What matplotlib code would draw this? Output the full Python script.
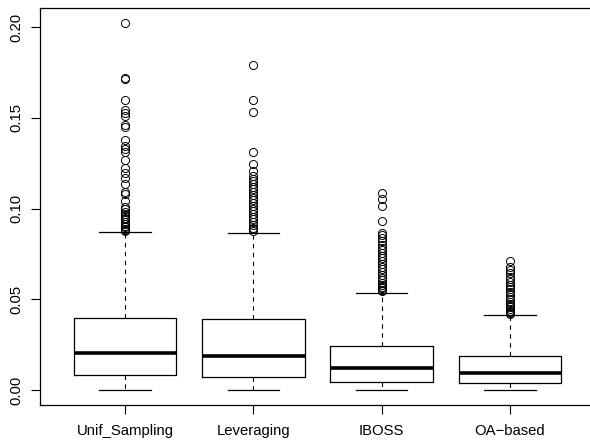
import matplotlib
matplotlib.use('Agg')
import matplotlib.pyplot as plt

# Methods on the x axis
methods = ['Unif_Sampling', 'Leveraging', 'IBOSS', 'OA\u2212based']

# Five-number summaries
whisker_low = [0.0, 0.0, 0.0, 0.0]
q1 = [0.0081, 0.0072, 0.0046, 0.0037]
medians = [0.0202, 0.0186, 0.0123, 0.0092]
q3 = [0.0395, 0.0390, 0.0245, 0.0188]
whisker_high = [0.0873, 0.0864, 0.0537, 0.0412]

# Outliers above the upper whisker
unif_out = [0.2024, 0.172, 0.1712, 0.160, 0.1545, 0.1527, 0.151, 0.146, 0.1447,
            0.138, 0.1345, 0.1328, 0.131, 0.1265, 0.1225, 0.1197, 0.117, 0.1138,
            0.1092, 0.108, 0.1044, 0.1007, 0.0995, 0.098, 0.097, 0.0958, 0.0947,
            0.094, 0.0925, 0.0915, 0.0905, 0.0897, 0.089, 0.0884, 0.0878]
lev_out = [0.1792, 0.160, 0.1533, 0.131, 0.1245, 0.1205, 0.118, 0.1165, 0.115,
           0.1135, 0.112, 0.1105, 0.109, 0.1075, 0.106, 0.1045, 0.103, 0.1015,
           0.100, 0.0985, 0.097, 0.0955, 0.094, 0.0925, 0.091, 0.0895, 0.0885, 0.0875]
iboss_out = [0.1088, 0.1051, 0.1014, 0.0932, 0.0867, 0.0855, 0.0838, 0.082, 0.080,
             0.0785, 0.077, 0.0755, 0.074, 0.0725, 0.071, 0.0695, 0.068, 0.0665,
             0.065, 0.0635, 0.062, 0.0605, 0.059, 0.058, 0.057, 0.056, 0.0552, 0.0545]
oa_out = [0.0711, 0.068, 0.066, 0.0645, 0.0625, 0.061, 0.0597, 0.058, 0.057, 0.0555,
          0.0542, 0.053, 0.0514, 0.050, 0.0487, 0.0475, 0.0465, 0.0455, 0.0445,
          0.0438, 0.0432, 0.0425, 0.0418]
outliers = [unif_out, lev_out, iboss_out, oa_out]

yticks = [0.00, 0.05, 0.10, 0.15, 0.20]

plt.rcParams['font.family'] = ['Liberation Sans', 'DejaVu Sans']

stats = []
for i in range(len(methods)):
    stats.append({'whislo': whisker_low[i], 'q1': q1[i], 'med': medians[i],
                  'q3': q3[i], 'whishi': whisker_high[i], 'fliers': outliers[i]})

fig = plt.figure(figsize=(5.9, 4.42), dpi=100)
ax = fig.add_axes([0.0683, 0.0844, 0.9395, 0.8982])

ax.bxp(stats, positions=[1, 2, 3, 4], widths=0.8, showfliers=True,
       boxprops=dict(color='black', linewidth=0.9),
       medianprops=dict(color='black', linewidth=2.6, solid_capstyle='butt'),
       whiskerprops=dict(color='black', linewidth=0.8, linestyle=(0, (4, 4))),
       capprops=dict(color='black', linewidth=0.9),
       capwidths=0.4,
       flierprops=dict(marker='o', markersize=5.8, markerfacecolor='none',
                       markeredgecolor='black', markeredgewidth=0.7))

ax.set_xlim(0.34, 4.66)
ax.set_ylim(-0.0081, 0.2107)
ax.set_xticks([1, 2, 3, 4])
ax.set_xticklabels(methods)
ax.set_yticks(yticks)
ax.set_yticklabels(['%.2f' % t for t in yticks], rotation=90, va='center')

ax.tick_params(axis='both', direction='out', length=6.5, width=0.8,
               labelsize=10.7, colors='black')
ax.tick_params(axis='x', pad=7.5)
ax.tick_params(axis='y', pad=6)
for s in ax.spines.values():
    s.set_linewidth(0.9)
ax.spines['right'].set_visible(False)

fig.savefig('out.png', dpi=100)
